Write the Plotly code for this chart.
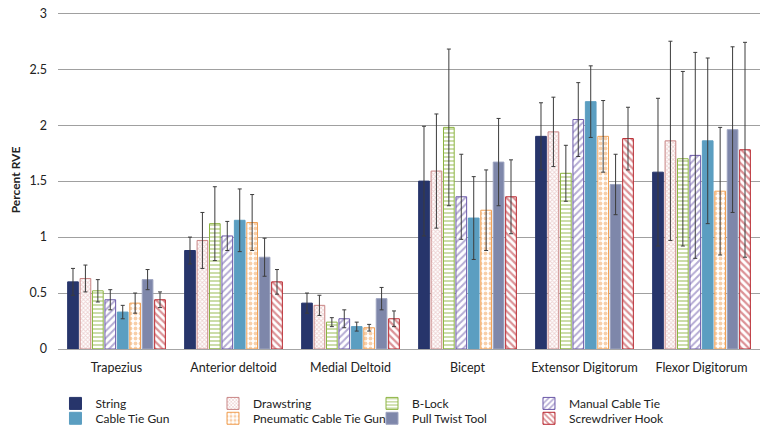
import plotly.graph_objects as go

categories = ["Trapezius", "Anterior deltoid", "Medial Deltoid", "Bicept",
              "Extensor Digitorum", "Flexor Digitorum"]

series_names = ["String", "Drawstring", "B-Lock", "Manual Cable Tie",
                "Cable Tie Gun", "Pneumatic Cable Tie Gun", "Pull Twist Tool",
                "Screwdriver Hook"]

string_vals = [0.60, 0.88, 0.41, 1.50, 1.90, 1.58]
string_err = [0.12, 0.12, 0.09, 0.49, 0.30, 0.66]
drawstring_vals = [0.63, 0.97, 0.39, 1.59, 1.94, 1.86]
drawstring_err = [0.12, 0.25, 0.09, 0.51, 0.31, 0.89]
block_vals = [0.52, 1.12, 0.24, 1.98, 1.57, 1.70]
block_err = [0.10, 0.33, 0.04, 0.70, 0.25, 0.78]
manual_vals = [0.44, 1.01, 0.27, 1.36, 2.05, 1.73]
manual_err = [0.09, 0.13, 0.08, 0.38, 0.33, 0.92]
gun_vals = [0.33, 1.15, 0.20, 1.17, 2.21, 1.86]
gun_err = [0.06, 0.28, 0.04, 0.37, 0.32, 0.74]
pneumatic_vals = [0.41, 1.13, 0.19, 1.24, 1.90, 1.41]
pneumatic_err = [0.09, 0.25, 0.03, 0.36, 0.32, 0.57]
pulltwist_vals = [0.62, 0.82, 0.45, 1.67, 1.47, 1.96]
pulltwist_err = [0.09, 0.17, 0.10, 0.39, 0.27, 0.74]
screwdriver_vals = [0.44, 0.60, 0.27, 1.36, 1.88, 1.78]
screwdriver_err = [0.07, 0.11, 0.07, 0.33, 0.28, 0.96]

values = [string_vals, drawstring_vals, block_vals, manual_vals, gun_vals,
          pneumatic_vals, pulltwist_vals, screwdriver_vals]
errors = [string_err, drawstring_err, block_err, manual_err, gun_err,
          pneumatic_err, pulltwist_err, screwdriver_err]

styles = [
    dict(color="#27356b", line="#27356b", shape=""),
    dict(color="#ffffff", line="#c98585", shape="x", fg="#dba6a6", size=3, sol=0.5),
    dict(color="#ffffff", line="#8db543", shape="-", fg="#8db543", size=4, sol=0.45),
    dict(color="#ffffff", line="#6a57a8", shape="/", fg="#6a57a8", size=5, sol=0.4),
    dict(color="#5b9ec1", line="#5b9ec1", shape=""),
    dict(color="#ffffff", line="#f0a055", shape=".", fg="#f0a055", size=5, sol=0.45),
    dict(color="#7e87aa", line="#9ea4c0", shape=""),
    dict(color="#ffffff", line="#b8262e", shape="\\", fg="#b8262e", size=5, sol=0.45),
]

# legend placement: 4 columns x 2 rows (paper coordinates)
legend_cols = [-0.0036, 0.2208, 0.4473, 0.6709]
legend_rows = [-0.161, -0.205]

fig = go.Figure()
layout_legends = {}
for i, (name, vals, errs, st) in enumerate(zip(series_names, values, errors, styles)):
    marker = dict(color=st["color"], line=dict(color=st["line"], width=1))
    if st["shape"]:
        marker["pattern"] = dict(shape=st["shape"], fgcolor=st["fg"], bgcolor="#ffffff",
                                 size=st["size"], solidity=st["sol"], fillmode="overlay")
    key = "legend" if i == 0 else f"legend{i + 1}"
    fig.add_trace(go.Bar(
        x=categories, y=vals, name=name, marker=marker, legend=key,
        error_y=dict(type="data", array=errs, visible=True, color="#3c3c3c",
                     thickness=1, width=2),
    ))
    layout_legends[key] = dict(orientation="h", x=legend_cols[i % 4], xanchor="left",
                               y=legend_rows[i // 4], yanchor="middle",
                               font=dict(size=12), itemwidth=30,
                               bgcolor="rgba(0,0,0,0)")

fig.update_layout(
    width=760, height=433,
    margin=dict(l=58, r=0, t=11.24, b=80),
    paper_bgcolor="#ffffff", plot_bgcolor="#ffffff",
    barmode="group", bargap=0.15, bargroupgap=0.14,
    font=dict(family="Lato, Calibri, sans-serif", size=12, color="#222222"),
    showlegend=True,
    xaxis=dict(showgrid=False, showline=True, linecolor="#a6a6a6", linewidth=1,
               ticks="", tickfont=dict(size=12.5), automargin=False,
               ticklabelstandoff=7),
    yaxis=dict(range=[0, 3.02], tickvals=[0, 0.5, 1, 1.5, 2, 2.5, 3],
               ticktext=["0", "0.5", "1", "1.5", "2", "2.5", "3"],
               showgrid=True, gridcolor="#a0a0a0", gridwidth=1,
               zeroline=False, showline=False, ticks="", tickfont=dict(size=12.5),
               automargin=False, ticklabeloverflow="allow", ticklabelstandoff=10,
               title=dict(text="<b>Percent RVE</b>", font=dict(size=12), standoff=6)),
    **layout_legends,
)

fig.write_html("out.html", config={"displayModeBar": False},
               post_script="document.body.style.margin='0px';document.body.style.overflow='hidden';")
